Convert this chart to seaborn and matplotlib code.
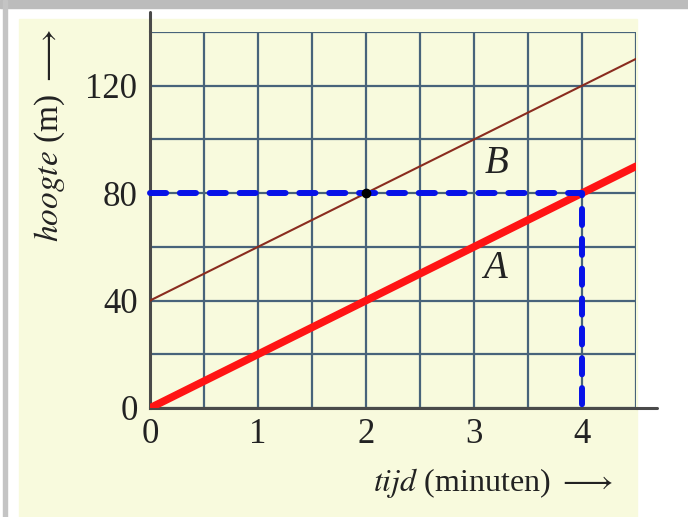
import matplotlib
matplotlib.use("Agg")
import matplotlib.pyplot as plt
from matplotlib.patches import Rectangle
import numpy as np
import pandas as pd
import seaborn as sns

# data
tijd = [0, 4.5]
hoogte_A = [0, 90]
hoogte_B = [40, 130]
aflees_x = [0, 4, 4]
aflees_y = [80, 80, 0]
snijpunt_x = [2]
snijpunt_y = [80]
x_ticks = [0, 1, 2, 3, 4]
y_ticks = [0, 40, 80, 120]

sns.set_theme(style="white")
plt.rcParams['font.family'] = ['Liberation Serif', 'DejaVu Serif']
plt.rcParams['mathtext.fontset'] = 'stix'

geel = '#f8fadd'
grid_kleur = '#48637a'
as_kleur = '#4a4a4a'
tekst_kleur = '#222222'

fig = plt.figure(figsize=(6.88, 5.17), dpi=100)
fig.patch.set_facecolor('white')
W, H = 688, 517
# scanned page background
fig.patches.append(Rectangle((19 / W, 0), (637 - 19) / W, (517 - 19) / H,
                             transform=fig.transFigure, color=geel, zorder=-3))
fig.patches.append(Rectangle((0, 1 - 8 / H), 1, 8 / H,
                             transform=fig.transFigure, color='#bcbcbc', zorder=-2))
fig.patches.append(Rectangle((3 / W, 0), 4 / W, 1,
                             transform=fig.transFigure, color='#c4c4c4', zorder=-2))

ax = fig.add_axes([150 / W, (517 - 408) / H, (636 - 150) / W, (408 - 32) / H])
ax.set_facecolor(geel)

df_A = pd.DataFrame({'tijd': tijd, 'hoogte': hoogte_A})
df_B = pd.DataFrame({'tijd': tijd, 'hoogte': hoogte_B})
sns.lineplot(data=df_B, x='tijd', y='hoogte', color='#8a2c1f', lw=1.5, ax=ax, zorder=3)
sns.lineplot(data=df_A, x='tijd', y='hoogte', color='#ff1414', lw=5.5, ax=ax,
             zorder=4, solid_capstyle='round')
ax.plot(aflees_x, aflees_y, color='#0712e8', lw=4.3, dashes=(2.7, 2.3),
        dash_capstyle='round', zorder=5, clip_on=False)
ax.plot(snijpunt_x, snijpunt_y, 'o', color='black', ms=6, zorder=6)

ax.set_xlim(0, 4.5)
ax.set_ylim(0, 140)
ax.set_xticks(x_ticks)
ax.set_yticks(y_ticks)
ax.set_xticks(np.arange(0, 4.51, 0.5), minor=True)
ax.set_yticks(np.arange(0, 141, 20), minor=True)
ax.grid(which='both', color=grid_kleur, lw=1.6, zorder=1)
ax.set_axisbelow(True)
ax.tick_params(which='both', length=0, labelsize=25, colors=tekst_kleur)
ax.tick_params(axis='x', pad=7)
ax.tick_params(axis='y', pad=9)
ax.set_xlabel('')
ax.set_ylabel('')

for s in ['top', 'right']:
    ax.spines[s].set_visible(False)
for s in ['left', 'bottom']:
    ax.spines[s].set_color(as_kleur)
    ax.spines[s].set_linewidth(2.2)
    ax.spines[s].set_zorder(2)

# axes stick out past the grid
ax.plot([0, 0], [140, 147.5], color=as_kleur, lw=2.2, clip_on=False, zorder=2)
ax.plot([4.5, 4.69], [0, 0], color=as_kleur, lw=2.2, clip_on=False, zorder=2)

ax.text(3.21, 91, 'B', fontsize=28, style='italic', ha='center', va='center', color=tekst_kleur)
ax.text(3.19, 52, 'A', fontsize=28, style='italic', ha='center', va='center', color=tekst_kleur)

fig.text(50 / W, 1 - 135 / H, r'$\mathit{hoogte}$ (m) $\longrightarrow$', rotation=90,
         fontsize=24, ha='center', va='center', color=tekst_kleur)
fig.text(493 / W, 1 - 483 / H, r'$\mathit{tijd}$ (minuten) $\longrightarrow$',
         fontsize=23, ha='center', va='center', color=tekst_kleur)

fig.savefig('out.png', dpi=100)
